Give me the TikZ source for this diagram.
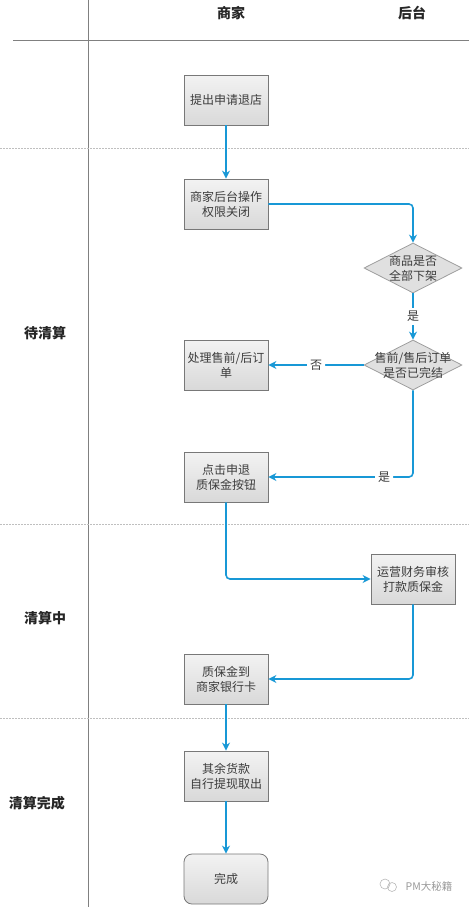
\documentclass[tikz,border=0pt]{standalone}
\usepackage{fontspec}
\setmainfont{Noto Sans CJK SC}
\usetikzlibrary{shapes.geometric,arrows.meta}
\definecolor{flowblue}{RGB}{24,152,214}
\definecolor{rulegray}{RGB}{128,128,128}
\definecolor{boxline}{RGB}{120,120,120}
\definecolor{inkgray}{RGB}{60,60,60}
\tikzset{
  box/.style={draw=boxline, line width=0.8pt, top color=white!95!black, bottom color=white!85!black,
    minimum width=84pt, minimum height=50pt, inner sep=1pt, align=center,
    text=inkgray, font=\fontsize{12}{15}\selectfont},
  decision/.style={diamond, draw=white!62!black, fill=white!88!black, line width=0.8pt,
    inner sep=0pt, minimum width=98pt, minimum height=50pt},
  dtext/.style={align=center, text=inkgray, font=\fontsize{12}{15}\selectfont},
  flow/.style={->, flowblue, line width=1.6pt, rounded corners=4pt},
  yesno/.style={fill=white, text=inkgray, inner sep=3pt, font=\fontsize{12}{15}\selectfont},
  lane/.style={font=\fontsize{14}{16}\selectfont\bfseries, text=black!85},
}
\begin{document}
\begin{tikzpicture}[x=1pt, y=-1pt, >={Stealth[length=8pt,width=8pt]}]
  \useasboundingbox (0,0) rectangle (469,907);

  % swimlane frame
  \draw[rulegray, line width=1pt] (88,0) -- (88,907);
  \draw[rulegray, line width=1pt] (13,41) -- (469,41);
  \foreach \y in {148,524,718}
    \draw[white!75!black, dashed, dash pattern=on 1.5pt off 1.5pt, line width=0.6pt] (0,\y) -- (469,\y);

  % lane headers
  \node[lane] (hshop) at (231,13) {商家};
  \node[lane] (hback) at (412,13) {后台};
  \node[lane] (swait) at (45,333) {待清算};
  \node[lane] (sdoing) at (45,618) {清算中};
  \node[lane] (sdone) at (37,803) {清算完成};

  % steps
  \node[box] (apply) at (226,100) {提出申请退店};
  \node[box] (close) at (226,204) {商家后台操作\\权限关闭};
  \node[decision] (offshelf) at (413,268) {};
  \node[dtext] at (offshelf) {商品是否\\全部下架};
  \node[decision] (orders) at (413,365) {};
  \node[dtext] at (orders) {售前/售后订单\\是否已完结};
  \node[box] (handle) at (226,365) {处理售前/后订\\单};
  \node[box] (refund) at (226,477) {点击申退\\质保金按钮};
  \node[box] (audit) at (413,579) {运营财务审核\\打款质保金};
  \node[box] (bank) at (226,679) {质保金到\\商家银行卡};
  \node[box] (withdraw) at (226,776) {其余货款\\自行提现取出};
  \node[box, rounded corners=8pt] (finish) at (226,879) {完成};

  % connectors
  \draw[flow] (apply) -- (close);
  \draw[flow] (close.east) -| (offshelf.north);
  \draw[flow] (offshelf.south) -- node[yesno] {是} (orders.north);
  \draw[flow] (orders.west) -- node[yesno] {否} (handle.east);
  \draw[flow] (orders.south) |- node[yesno, pos=0.6] {是} (refund.east);
  \draw[flow] (refund.south) |- (audit.west);
  \draw[flow] (audit.south) |- (bank.east);
  \draw[flow] (bank) -- (withdraw);
  \draw[flow] (withdraw) -- (finish);

  % watermark
  \draw[white!72!black, line width=0.6pt] (385,884) circle (5) (392,887) circle (4.5);
  \node[text=white!60!black, font=\fontsize{10.5}{12}\selectfont] (mark) at (429,886) {PM大秘籍};
\end{tikzpicture}
\end{document}
